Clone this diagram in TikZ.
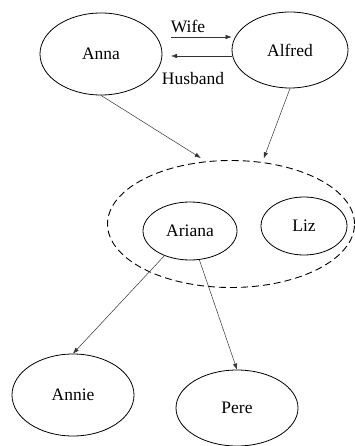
\documentclass[tikz,border=0pt]{standalone}
\usepackage{fontspec}
\setmainfont{Liberation Serif}
\usetikzlibrary{shapes.geometric,arrows.meta}
\begin{document}
\begin{tikzpicture}[x=1pt,y=-1pt,
  person/.style={draw,ellipse,line width=0.8pt,inner sep=0pt,font=\fontsize{17.5}{20}\selectfont},
  link/.style={draw=black!80,line width=0.5pt,-{Latex[length=6pt,width=4.5pt]}},
  lbl/.style={font=\fontsize{17.5}{20}\selectfont,inner sep=0pt}]
\useasboundingbox (0,0) rectangle (355,446);
\node[person,minimum width=122pt,minimum height=82pt] (anna) at (101,54) {Anna};
\node[person,minimum width=116pt,minimum height=76pt] (alfred) at (290,50) {Alfred};
\node[draw,ellipse,dashed,dash pattern=on 7pt off 4pt,line width=0.9pt,minimum width=247pt,minimum height=127pt] (group) at (231,224) {};
\node[person,minimum width=94pt,minimum height=58pt] (ariana) at (190,231) {Ariana};
\node[person,minimum width=86pt,minimum height=58pt] (liz) at (304,226) {Liz};
\node[person,minimum width=122pt,minimum height=82pt] (annie) at (73,395) {Annie};
\node[person,minimum width=122pt,minimum height=76pt] (pere) at (237,408) {Pere};
\coordinate (w1) at (171,37);
\coordinate (h2) at (171,56);
\draw[link] (w1) -- (alfred.west |- w1);
\draw[link] (alfred.west |- h2) -- (h2);
\node[lbl] (wife) at (188,26) {Wife};
\node[lbl] (husband) at (193,79) {Husband};
\draw[link] (anna.south) -- ([yshift=4pt]group.116);
\draw[link] (alfred.south) -- ([yshift=4pt]group.62);
\draw[link] (ariana.224) -- (annie.north);
\draw[link] (ariana.288) -- (pere.north);
\end{tikzpicture}
\end{document}
